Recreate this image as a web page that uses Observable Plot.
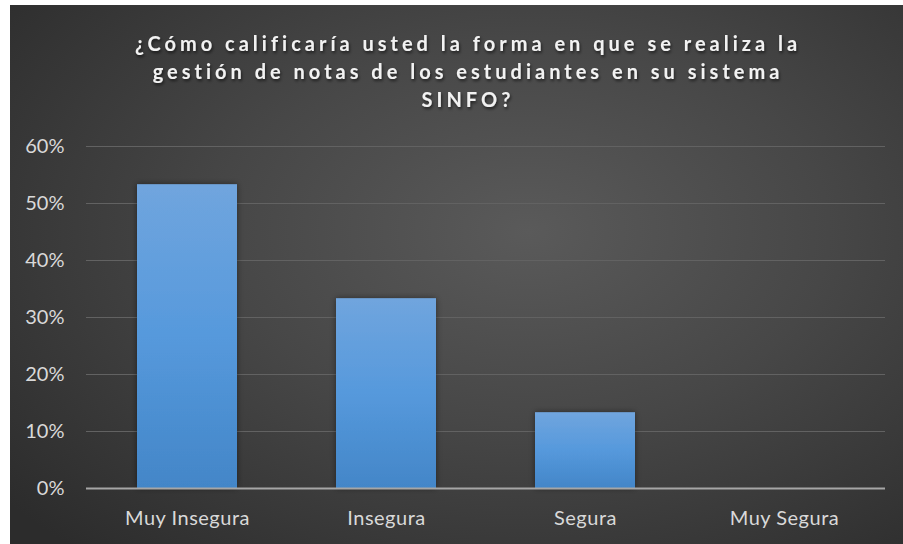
<!DOCTYPE html>
<html>
<head>
<meta charset="utf-8">
<script src="https://cdn.jsdelivr.net/npm/d3@7"></script>
<script src="https://cdn.jsdelivr.net/npm/@observablehq/plot@0.6"></script>
<style>
  html, body { margin: 0; padding: 0; background: #ffffff; }
  #chart { position: absolute; left: 10px; top: 5px; }
  #chart svg { display: block; }
</style>
</head>
<body>
<div id="chart"></div>
<script>
const categories = ["Muy Insegura", "Insegura", "Segura", "Muy Segura"];
const values = [0.533, 0.333, 0.133, 0];
const yTicks = [0, 0.1, 0.2, 0.3, 0.4, 0.5, 0.6];
const titleLines = [
  "¿Cómo calificaría usted la forma en que se realiza la",
  "gestión de notas de los estudiantes en su sistema",
  "SINFO?"
];

const data = categories.map((c, i) => ({category: c, value: values[i]}));
const W = 893, H = 539;
const font = "Lato, 'Open Sans', sans-serif";

const chart = Plot.plot({
  width: W,
  height: H,
  marginLeft: 76,
  marginRight: 18,
  marginTop: 141,
  marginBottom: 56,
  style: {
    background: "radial-gradient(ellipse 75% 80% at 58% 42%, #5a5a5a 0%, #474747 45%, #2c2c2c 100%)",
    fontFamily: font,
    color: "#d9d9d9",
    overflow: "visible"
  },
  x: {domain: categories, paddingInner: 0.495, paddingOuter: 0.2475, label: null},
  y: {domain: [0, 0.6], label: null},
  marks: [
    Plot.gridY(yTicks.filter(d => d > 0), {stroke: "#626262", strokeOpacity: 1, strokeWidth: 1}),
    Plot.barY(data, {x: "category", y: "value", fill: "url(#barGrad)", filter: d => d.value > 0}),
    Plot.ruleY([0], {stroke: "#a6a6a6", strokeWidth: 2.2}),
    Plot.axisY({ticks: yTicks, tickFormat: d3.format(".0%"), tickSize: 0, tickPadding: 22, fontSize: 20, fill: "#d9d9d9", label: null}),
    Plot.axisX({tickSize: 0, tickPadding: 22, fontSize: 20, fill: "#d9d9d9", label: null}),
    Plot.text([titleLines.join("\n")], {
      frameAnchor: "top", dy: -115.5, lineHeight: 1.4, fontSize: 20, fontWeight: "bold",
      fill: "#f2f2f2", lineAnchor: "top", dx: -18
    })
  ]
});

const svg = d3.select(chart);
const defs = svg.insert("defs", ":first-child");
const g = defs.append("linearGradient").attr("id", "barGrad").attr("x1", 0).attr("y1", 0).attr("x2", 0).attr("y2", 1);
g.append("stop").attr("offset", "0%").attr("stop-color", "#70a5de");
g.append("stop").attr("offset", "50%").attr("stop-color", "#5699dc");
g.append("stop").attr("offset", "100%").attr("stop-color", "#4386c8");
const f = defs.append("filter").attr("id", "shadow").attr("x", "-20%").attr("y", "-20%").attr("width", "140%").attr("height", "140%");
f.append("feDropShadow").attr("dx", 0).attr("dy", 0).attr("stdDeviation", 3).attr("flood-color", "#000").attr("flood-opacity", 0.45);
svg.selectAll("g[fill='url(#barGrad)'] rect, rect[fill='url(#barGrad)']").attr("filter", "url(#shadow)");

const tf = defs.append("filter").attr("id", "tshadow");
tf.append("feDropShadow").attr("dx", 1).attr("dy", 2).attr("stdDeviation", 1.5).attr("flood-color", "#000").attr("flood-opacity", 0.6);
svg.selectAll("text").filter(function(){ return this.textContent.startsWith("¿"); })
  .style("letter-spacing", "4px").attr("filter", "url(#tshadow)");
svg.selectAll("g[aria-label='x-axis tick label'] text").style("letter-spacing", "0.5px");

document.getElementById("chart").appendChild(chart);
</script>
</body>
</html>
